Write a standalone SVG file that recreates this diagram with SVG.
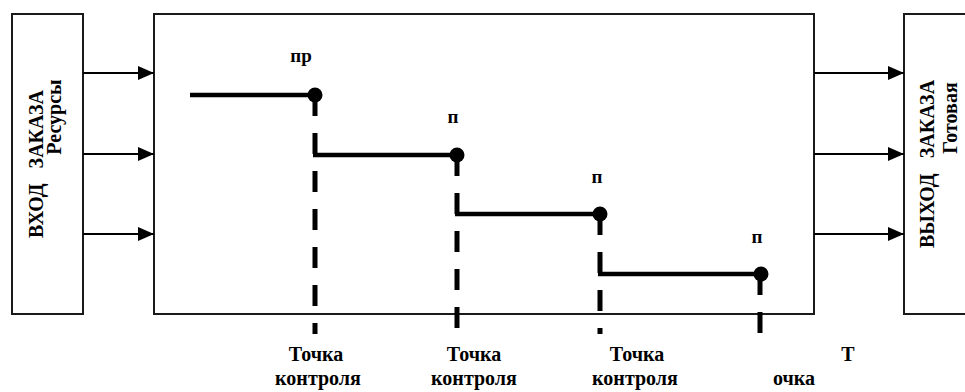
<svg xmlns="http://www.w3.org/2000/svg" width="965" height="392" viewBox="0 0 965 392">
<style>
.box{fill:#fff;stroke:#1a1a1a;stroke-width:2}
text{font-family:'Liberation Serif', serif;font-weight:700;fill:#000;text-anchor:middle}
.t{font-size:20px}
.s{font-size:19px}
.arr{stroke:#000;stroke-width:2;fill:none;marker-end:url(#ah)}
.step{stroke:#000;stroke-width:4.5;fill:none}
.dash{stroke:#000;stroke-width:5;fill:none;stroke-dasharray:21 17}
</style>
<defs>
<marker id="ah" markerUnits="userSpaceOnUse" markerWidth="16" markerHeight="14" refX="16" refY="7" orient="auto">
<path d="M0,0 L16,7 L0,14 z" fill="#000"/>
</marker>
</defs>
<g id="input">
<rect class="box" x="12" y="14" width="71" height="300"/>
<text class="t" transform="translate(43,164) rotate(-90)" xml:space="preserve">ВХОД   ЗАКАЗА</text>
<text class="t" transform="translate(61,117) rotate(-90)">Ресурсы</text>
</g>
<g id="process">
<rect class="box" x="154" y="14" width="660" height="300"/>
</g>
<g id="output">
<rect class="box" x="904" y="14" width="70" height="300"/>
<text class="t" transform="translate(934,164) rotate(-90)" xml:space="preserve">ВЫХОД   ЗАКАЗА</text>
<text class="t" transform="translate(957,118) rotate(-90)">Готовая</text>
</g>
<g id="connectors">
<line class="arr" x1="83" y1="73" x2="154" y2="73"/>
<line class="arr" x1="83" y1="154" x2="154" y2="154"/>
<line class="arr" x1="83" y1="234" x2="154" y2="234"/>
<line class="arr" x1="814" y1="73" x2="904" y2="73"/>
<line class="arr" x1="814" y1="154" x2="904" y2="154"/>
<line class="arr" x1="814" y1="234" x2="904" y2="234"/>
</g>
<g id="steps">
<line class="dash" x1="315" y1="95" x2="315" y2="334"/>
<line class="dash" x1="457" y1="155" x2="457" y2="328"/>
<line class="dash" x1="600" y1="214" x2="600" y2="334"/>
<line class="dash" x1="760" y1="274" x2="760" y2="334"/>
<line class="step" x1="190" y1="95" x2="315" y2="95"/>
<line class="step" x1="313" y1="155" x2="457" y2="155"/>
<line class="step" x1="455" y1="214" x2="600" y2="214"/>
<line class="step" x1="598" y1="274" x2="761" y2="274"/>
<circle cx="315" cy="95" r="7.5"/>
<circle cx="457" cy="155" r="7.5"/>
<circle cx="600" cy="214" r="7.5"/>
<circle cx="761" cy="274" r="7.5"/>
<text class="s" x="301" y="62">пр</text>
<text class="s" x="453" y="123">п</text>
<text class="s" x="597" y="183">п</text>
<text class="s" x="757" y="243">п</text>
</g>
<g id="labels">
<text class="t" x="316" y="361">Точка</text>
<text class="t" x="318" y="385">контроля</text>
<text class="t" x="474" y="361">Точка</text>
<text class="t" x="474" y="385">контроля</text>
<text class="t" x="637" y="361">Точка</text>
<text class="t" x="635" y="385">контроля</text>
<text class="t" x="848" y="361">Т</text>
<text class="t" x="794" y="385">очка</text>
</g>
</svg>
